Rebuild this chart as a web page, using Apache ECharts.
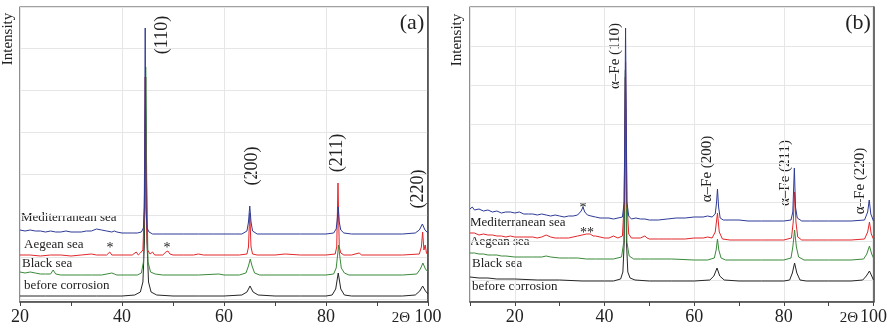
<!DOCTYPE html>
<html>
<head>
<meta charset="utf-8">
<script src="https://cdn.jsdelivr.net/npm/echarts/dist/echarts.min.js"></script>
<style>
  html, body { margin: 0; padding: 0; background: #fff; }
  #chart { width: 890px; height: 330px; }
</style>
</head>
<body>
<div id="chart"></div>
<script>
// tick labels on the 2-theta axis
var twoThetaTicks = [20, 40, 60, 80, 100];
var curveNames = ['before corrosion', 'Black sea', 'Aegean sea', 'Mediterranean sea'];
var curveColors = ['#262626', '#3a8a3a', '#e3262a', '#2e3b96'];

// panel (a): [2theta, intensity (offset, arbitrary units)]
var aBefore = [[20,6],[25,6],[30,6],[35,6],[40,6],[42.5,7],[43.6,10],[44.1,20],[44.4,60],[44.65,225],[44.9,60],[45.2,20],[45.7,10],[46.8,7],[50,6],[55,6],[60,6],[63.5,7],[64.5,10],[65.1,16],[65.7,10],[66.7,7],[70,6],[75,6],[80,6],[81.2,7],[81.9,13],[82.4,29],[82.9,13],[83.6,7],[85,6],[90,6],[95,6],[97.5,7],[98.4,11],[98.95,16],[99.5,11],[100,8]];
var aBlack = [[20,30],[21,29],[22,30],[23,29],[24,28],[25,28],[26,28],[26.5,32],[27,28],[28,27],[30,27],[32,27],[34,27],[36,27],[38,29],[38.5,28],[39,27],[41,27],[43,27],[43.8,29],[44.2,40],[44.45,120],[44.65,235],[44.85,120],[45.1,40],[45.6,30],[46.5,28],[48,27],[50,27],[55,27],[59,28],[60,27],[63,27],[64.3,29],[64.8,36],[65.15,43],[65.5,36],[66,29],[67,27],[70,27],[75,27],[80,27],[81.5,28],[82,34],[82.3,48],[82.45,57],[82.7,46],[83,34],[83.6,29],[84.5,27],[90,27],[95,27],[97.8,28],[98.5,33],[99,39],[99.5,33],[100,30]];
var aAegean = [[20,47],[22,47],[24,46],[26,47],[28,47],[30,46],[32,47],[34,48],[35,47],[37,47],[37.6,50],[38,47],[40,47],[42,47],[42.8,50],[43.2,47],[43.6,49],[44.1,52],[44.35,90],[44.55,225],[44.75,90],[45,52],[45.5,48],[46,50],[46.4,47],[48,47],[48.6,50],[49,51],[49.4,48],[50,47],[52,47],[54,47],[55,48],[56,47],[60,47],[63,47],[64.5,48],[64.8,55],[65.05,89],[65.3,55],[65.6,48],[66.5,47],[70,47],[72,48],[75,47],[80,47],[81.8,48],[82.1,55],[82.35,119],[82.6,55],[82.9,49],[83.5,47],[85,47],[86.5,49],[87,47],[90,47],[95,47],[98.3,48],[98.7,55],[98.95,70],[99.2,52],[99.45,57],[99.7,49],[100,47]];
var aMediterranean = [[20,72],[21,71],[22,72],[23,71],[24,71],[25,70],[26,71],[27,70],[28,70],[29,71],[30,70],[31,70],[32,70],[33,71],[34,71],[35,73],[36,72],[37,71],[38,70],[38.5,71],[39,70],[40,69],[41,69],[42,69],[43,69],[43.8,70],[44.2,74],[44.4,95],[44.55,274],[44.7,95],[44.9,74],[45.3,70],[46,68],[48,68],[50,68],[52,68],[55,68],[58,68],[60,68],[62,68],[63.5,68],[64.5,71],[64.8,80],[65.05,96],[65.3,80],[65.6,71],[66.5,68],[70,68],[75,68],[80,68],[81.5,69],[82,73],[82.2,82],[82.4,95],[82.6,80],[82.9,72],[83.5,69],[85,68],[90,68],[95,68],[97.5,69],[98.3,72],[98.9,78],[99.4,72],[100,69]];

// panel (b)
var bBefore = [[10,25],[12,24],[14,24],[16,23],[18,23],[20,23],[25,22],[30,22],[35,21],[40,21],[42,21],[43.6,23],[44.1,30],[44.4,60],[44.65,225],[44.9,60],[45.2,30],[45.7,24],[46.8,22],[50,21],[55,21],[60,21],[63.5,22],[64.4,26],[65.1,34],[65.7,26],[66.7,22],[70,21],[75,21],[80,21],[81.3,22],[81.9,29],[82.4,39],[82.9,29],[83.6,22],[85,21],[90,21],[95,21],[97.6,22],[98.4,26],[99.1,31],[99.6,26],[100,22]];
var bBlack = [[10,49],[11,49],[12,48],[13,48],[14,47],[15,47],[16,47],[17,46],[18,46],[20,45],[22,45],[24,45],[26,45],[27,46],[28,45],[30,44],[32,44],[34,44],[36,43],[38,43],[40,43],[42,43],[43.8,45],[44.3,60],[44.65,232],[45,60],[45.5,46],[46.5,43],[48,43],[50,43],[55,43],[60,42],[63,42],[64.5,44],[64.9,52],[65.2,63],[65.5,52],[66,44],[67,42],[70,42],[75,42],[80,42],[81.6,44],[82,55],[82.4,72],[82.8,55],[83.3,45],[84.5,42],[90,42],[95,42],[97.8,43],[98.5,48],[99.1,56],[99.6,48],[100,44]];
var bAegean = [[10,69],[11,69],[12,67],[13,68],[14,67],[15,67],[16,66],[17,66],[18,65],[19,66],[20,65],[22,65],[24,65],[25,64],[26,65],[27,67],[28,65],[29,64],[30,64],[31,64],[32,64],[33,65],[34,66],[35,67],[36,68],[36.8,68],[37.5,66],[38,66],[39,65],[40,64],[41,64],[42,66],[43,64],[44,66],[44.4,100],[44.7,240],[45,100],[45.4,68],[46,64],[47,64],[48,64],[49,66],[49.5,64],[50,63],[52,63],[55,63],[58,63],[60,64],[62,64],[63,65],[64,64],[64.7,70],[65.2,89],[65.6,70],[66.3,63],[68,62],[70,62],[75,62],[80,62],[81.7,64],[82.1,80],[82.4,110],[82.7,80],[83.1,65],[84,62],[86,62],[90,62],[95,62],[98,63],[98.7,70],[99.1,80],[99.5,68],[100,63]];
var bMediterranean = [[10,93],[10.5,95],[11,92],[12,93],[13,91],[14,92],[15,90],[16,91],[17,89],[18,90],[19,90],[20,89],[21,90],[22,88],[23,88],[24,88],[25,87],[26,88],[27,87],[28,86],[29,87],[30,86],[31,85],[32,86],[33,86],[34,87],[34.8,91],[35.2,95],[35.6,90],[36.2,87],[37,86],[38,85],[39,84],[40,84],[41,84],[42,83],[43,84],[44,85],[44.4,100],[44.7,274],[45,100],[45.4,86],[46,83],[47,84],[48,83],[49,83],[50,82],[52,82],[54,83],[56,84],[58,84],[60,85],[62,85],[63,86],[64,85],[64.7,88],[65,100],[65.2,113],[65.45,95],[65.8,84],[66.5,82],[68,82],[70,82],[72,81],[75,81],[78,81],[80,81],[81.6,82],[82,90],[82.35,134],[82.6,95],[83,84],[84,81],[86,81],[90,81],[95,81],[98,82],[98.7,90],[99.05,102],[99.4,88],[100,81]];

var panelA = [aBefore, aBlack, aAegean, aMediterranean];
var panelB = [bBefore, bBlack, bAegean, bMediterranean];

var serif = 'Liberation Serif';
var textColor = '#222';
var axisColor = '#444';
var gridColor = '#e6e6e6';

function tickLabel(v) {
    return twoThetaTicks.indexOf(v) >= 0 ? String(v) : '';
}

function mainX(gridIndex, min) {
    return {
        gridIndex: gridIndex, type: 'value', min: min, max: 100, interval: 10,
        axisLine: { lineStyle: { color: axisColor, width: 1.5 } },
        axisTick: { length: 4, lineStyle: { color: axisColor } },
        axisLabel: { formatter: tickLabel, fontFamily: serif, fontSize: 18, color: textColor, margin: 6 },
        splitLine: { show: false }
    };
}
// extra axes only used to draw the faint grid lines
function gridX(gridIndex, span) {
    return {
        gridIndex: gridIndex, type: 'value', inverse: true, min: 0, max: span, interval: 20, position: 'top',
        axisLine: { show: false }, axisTick: { show: false }, axisLabel: { show: false },
        splitLine: { show: true, lineStyle: { color: gridColor, width: 1 } }
    };
}
function mainY(gridIndex) {
    return {
        gridIndex: gridIndex, type: 'value', min: 0, max: 295,
        axisLine: { show: true, lineStyle: { color: axisColor, width: 1.5 } },
        axisTick: { show: false }, axisLabel: { show: false }, splitLine: { show: false }
    };
}
function gridY(gridIndex, step) {
    return {
        gridIndex: gridIndex, type: 'value', inverse: true, min: 0, max: 295, interval: step, position: 'right',
        axisLine: { show: false }, axisTick: { show: false }, axisLabel: { show: false },
        splitLine: { show: true, lineStyle: { color: gridColor, width: 1 } }
    };
}

var series = [];
panelA.forEach(function (d, i) {
    series.push({ name: curveNames[i], type: 'line', xAxisIndex: 0, yAxisIndex: 0, data: d,
        showSymbol: false, lineStyle: { width: 1, color: curveColors[i] } });
});
panelB.forEach(function (d, i) {
    series.push({ name: curveNames[i], type: 'line', xAxisIndex: 2, yAxisIndex: 2, data: d,
        showSymbol: false, lineStyle: { width: 1, color: curveColors[i] } });
});

function txt(x, y, s, size, opts) {
    opts = opts || {};
    return {
        type: 'text', x: x, y: y, rotation: opts.rot || 0,
        style: { text: s, font: size + 'px "' + serif + '"', fill: textColor,
            textAlign: opts.align || 'center', textVerticalAlign: 'middle' }
    };
}
var up = { rot: Math.PI / 2 };
var left = { align: 'left' };

var graphics = [
    // panel (a)
    txt(8, 39, 'Intensity', 15, up),
    txt(412, 23, '(a)', 22),
    txt(162, 35, '(110)', 18, up),
    txt(252, 166, '(200)', 18, up),
    txt(337, 153, '(211)', 18, up),
    txt(418, 189, '(220)', 18, up),
    txt(21, 218, 'Mediterranean sea', 13, left),
    txt(24, 245, 'Aegean sea', 13, left),
    txt(22, 264, 'Black sea', 13, left),
    txt(24, 286, 'before corrosion', 13, left),
    txt(110, 248, '*', 14),
    txt(167, 248, '*', 14),
    txt(401, 318, '2Θ', 15),
    // panel (b)
    txt(457, 40, 'Intensity', 15, up),
    txt(858, 23, '(b)', 22),
    txt(615, 56, 'α–Fe (110)', 15, up),
    txt(707, 169, 'α–Fe (200)', 15, up),
    txt(785, 173, 'α–Fe (211)', 15, up),
    txt(860, 181, 'α–Fe (220)', 15, up),
    txt(470, 223, 'Mediterranean sea', 13, left),
    txt(470, 242, 'Aegean sea', 13, left),
    txt(472, 264, 'Black sea', 13, left),
    txt(472, 287, 'before corrosion', 13, left),
    txt(583, 208, '*', 14),
    txt(587, 233, '**', 14),
    txt(849, 318, '2Θ', 15)
];

var myChart = echarts.init(document.getElementById('chart'));
var option = {
    animation: false,
    backgroundColor: '#fff',
    grid: [
        { left: 20, top: 7, width: 408, height: 295, show: true, borderColor: axisColor, borderWidth: 1.2 },
        { left: 470, top: 7, width: 405, height: 295, show: true, borderColor: axisColor, borderWidth: 1.2 }
    ],
    xAxis: [mainX(0, 20), gridX(0, 80), mainX(1, 10), gridX(1, 90)],
    yAxis: [mainY(0), gridY(0, 41.7), mainY(1), gridY(1, 39)],
    series: series,
    graphic: graphics
};
myChart.setOption(option);
window.addEventListener('resize', function () {
    myChart.resize();
});
</script>
</body>
</html>
